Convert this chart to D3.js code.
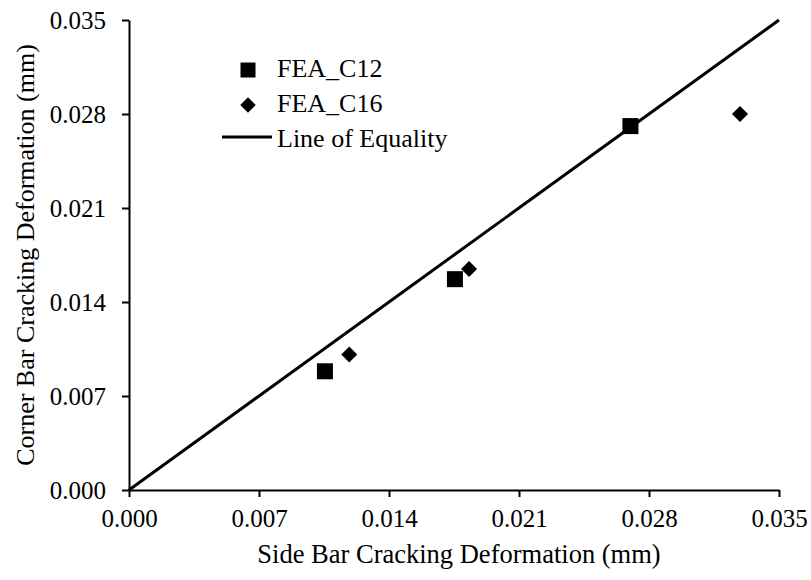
<!DOCTYPE html>
<html>
<head>
<meta charset="utf-8">
<script src="https://cdn.jsdelivr.net/npm/d3@7"></script>
<style>
  body { margin: 0; background: #fff; }
</style>
</head>
<body>
<div id="chart"></div>
<script>
// Values
const c12Side = [0.01055, 0.01755, 0.0270];
const c12Corner = [0.00884, 0.0157, 0.0271];
const c16Side = [0.01186, 0.01831, 0.0329];
const c16Corner = [0.01009, 0.01645, 0.0280];
const tickValues = [0, 0.007, 0.014, 0.021, 0.028, 0.035];
const equalityLine = [0, 0.035];
const legendLabels = ['FEA_C12', 'FEA_C16', 'Line of Equality'];

const FONT = '"Liberation Serif", "Times New Roman", serif';
const width = 811, height = 580;
const margin = { top: 20, right: 32, bottom: 90, left: 129 };
const chartWidth = width - margin.left - margin.right;
const chartHeight = height - margin.top - margin.bottom;

const svg = d3.select('#chart')
    .append('svg')
    .attr('width', width)
    .attr('height', height);

const g = svg.append('g')
    .attr('transform', `translate(${margin.left},${margin.top})`);

const x = d3.scaleLinear().domain([0, 0.035]).range([0, chartWidth]);
const y = d3.scaleLinear().domain([0, 0.035]).range([chartHeight, 0]);

// Axes
const xAxis = g.append('g')
    .attr('transform', `translate(0,${chartHeight})`)
    .call(d3.axisBottom(x).tickValues(tickValues).tickFormat(d3.format('.3f')).tickSize(7).tickPadding(12).tickSizeOuter(0));

const yAxis = g.append('g')
    .call(d3.axisLeft(y).tickValues(tickValues).tickFormat(d3.format('.3f')).tickSize(7).tickPadding(16).tickSizeOuter(0));

[xAxis, yAxis].forEach(ax => {
    ax.attr('font-family', null).attr('font-size', null);
    ax.select('.domain').attr('stroke', '#000').attr('stroke-width', 2);
    ax.selectAll('.tick line').attr('stroke', '#000').attr('stroke-width', 2);
    ax.selectAll('.tick text')
        .style('font-family', FONT)
        .style('font-size', '25px')
        .attr('fill', '#000');
});

// Line of equality
const line = d3.line().x(d => x(d)).y(d => y(d));
g.append('path')
    .datum(equalityLine)
    .attr('d', line)
    .attr('fill', 'none')
    .attr('stroke', '#000')
    .attr('stroke-width', 3);

// Series
const c12 = c12Side.map((s, i) => ({ x: s, y: c12Corner[i] }));
const c16 = c16Side.map((s, i) => ({ x: s, y: c16Corner[i] }));

const squareSym = d3.symbol().type(d3.symbolSquare).size(256);
const diamondSym = d3.symbol().type(d3.symbolSquare).size(128);

g.selectAll('.c12')
    .data(c12)
    .join('path')
    .attr('class', 'c12')
    .attr('d', squareSym)
    .attr('transform', d => `translate(${x(d.x)},${y(d.y)})`)
    .attr('fill', '#000');

g.selectAll('.c16')
    .data(c16)
    .join('path')
    .attr('class', 'c16')
    .attr('d', diamondSym)
    .attr('transform', d => `translate(${x(d.x)},${y(d.y)}) rotate(45)`)
    .attr('fill', '#000');

// Axis titles
svg.append('text')
    .attr('x', margin.left + chartWidth / 2 + 5)
    .attr('y', 563)
    .attr('text-anchor', 'middle')
    .style('font-family', FONT)
    .style('font-size', '26.5px')
    .text('Side Bar Cracking Deformation (mm)');

svg.append('text')
    .attr('transform', `translate(34,${margin.top + chartHeight / 2}) rotate(-90)`)
    .attr('text-anchor', 'middle')
    .style('font-family', FONT)
    .style('font-size', '26px')
    .text('Corner Bar Cracking Deformation (mm)');

// Legend
const legend = svg.append('g');
const rowY = [70, 105, 140];

legend.append('path')
    .attr('d', d3.symbol().type(d3.symbolSquare).size(225))
    .attr('transform', `translate(248,${rowY[0]})`)
    .attr('fill', '#000');

legend.append('path')
    .attr('d', d3.symbol().type(d3.symbolSquare).size(120))
    .attr('transform', `translate(248,${rowY[1]}) rotate(45)`)
    .attr('fill', '#000');

legend.append('line')
    .attr('x1', 222).attr('x2', 272)
    .attr('y1', rowY[2] - 3).attr('y2', rowY[2] - 3)
    .attr('stroke', '#000')
    .attr('stroke-width', 3);

legend.selectAll('.legend-label')
    .data(legendLabels)
    .join('text')
    .attr('class', 'legend-label')
    .attr('x', 277)
    .attr('y', (d, i) => rowY[i] + 7)
    .style('font-family', FONT)
    .style('font-size', '26px')
    .text(d => d);
</script>
</body>
</html>
